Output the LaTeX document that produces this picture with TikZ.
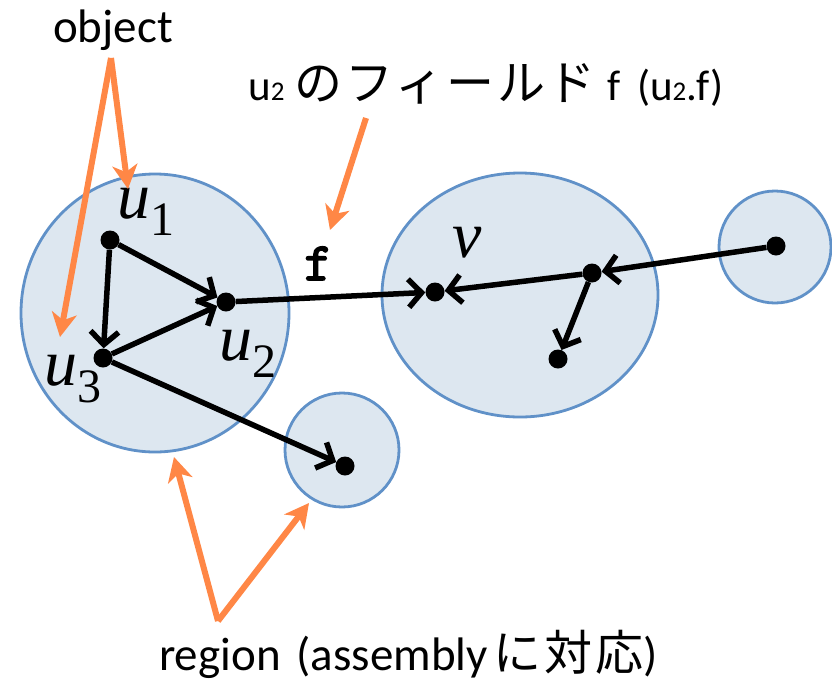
\documentclass[tikz,border=0pt]{standalone}
\usepackage{fontspec}
\setmainfont{Carlito}
\newfontfamily\cjk{Noto Sans CJK JP}[LetterSpace=6]
\newfontfamily\serifl{Liberation Serif}
\newfontfamily\ttb[FakeBold=3]{Latin Modern Mono}
\usetikzlibrary{arrows.meta}
\definecolor{regfill}{RGB}{221,231,240}
\definecolor{regline}{RGB}{96,145,200}
\definecolor{orng}{RGB}{255,135,70}
\newcommand\vlab[2]{{\serifl\itshape\fontsize{66}{66}\selectfont #1}\raisebox{-17pt}{\serifl\fontsize{48}{48}\selectfont #2}}
\newcommand\smd[1]{{\fontsize{27}{27}\selectfont #1}}
\newcommand\jp[1]{{\cjk\fontsize{48}{48}\selectfont #1}}
\tikzset{
  region/.style={draw=regline, fill=regfill, line width=2.8pt},
  dot/.style={circle, fill=black, inner sep=0pt, minimum size=19pt},
  edge/.style={line width=5.5pt, -{Straight Barb[length=13pt,width=28pt]}},
  note/.style={draw=orng, line width=6pt, -{Stealth[length=24pt,width=25pt,inset=7pt]}},
  txt/.style={inner sep=0pt, font=\fontsize{47}{49}\selectfont},
}
\begin{document}
\begin{tikzpicture}[x=1pt,y=-1pt]
\fill[white] (0,0) rectangle (832,683);
\useasboundingbox (0,0) rectangle (832,683);
% regions
\draw[region] (155,313) ellipse [x radius=134, y radius=139];
\draw[region] (342,450) circle [radius=57];
\draw[region] (520,295) ellipse [x radius=138, y radius=122];
\draw[region] (775,247) circle [radius=56];
% objects
\node[dot] (u1) at (110,240) {};
\node[dot] (u2) at (226,302) {};
\node[dot] (u3) at (103,358) {};
\node[dot] (w)  at (345,466) {};
\node[dot] (v)  at (435,292) {};
\node[dot] (m)  at (592,273) {};
\node[dot] (l)  at (558,359) {};
\node[dot] (r)  at (776,246) {};
% labels
\node[inner sep=0pt, anchor=base west] (lu1) at (117,218) {\vlab{u}{1}};
\node[inner sep=0pt, anchor=base west] (lu2) at (219,360) {\vlab{u}{2}};
\node[inner sep=0pt, anchor=base west] (lu3) at (44,385) {\vlab{u}{3}};
\node[inner sep=0pt, anchor=base west] (lv) at (452,257) {\serifl\itshape\fontsize{66}{66}\selectfont v};
\node[inner sep=0pt, anchor=base west] (lf) at (304,280) {\ttb\fontsize{54}{54}\selectfont f};
% edges
\draw[edge] (u1) -- (u2);
\draw[edge] (u1) -- (u3);
\draw[edge] (u3) -- (u2);
\draw[edge] (u3) -- (w);
\draw[edge] (u2) -- (v);
\draw[edge] (m) -- (v);
\draw[edge] (r) -- (m);
\draw[edge] (m) -- (l);
% annotations
\node[txt, anchor=base] (obj) at (113,42) {object};
\node[txt, anchor=base west, font=\fontsize{43}{45}\selectfont] (fld) at (248,100) {u\smd{2}\hspace{10pt}\jp{のフィールド}\hspace{12pt}f\hspace{16pt}(u\smd{2}.f)};
\node[txt, anchor=base west] (reg) at (159,670) {region\hspace{16pt}(assembly\hspace{6pt}\jp{に対応})};
\coordinate (oa) at (111,58);
\coordinate (ta1) at (128,189);
\coordinate (ta3) at (60,337);
\coordinate (fa) at (366,118);
\coordinate (tf) at (330,230);
\coordinate (ra) at (218,621);
\coordinate (tr1) at (174,457);
\coordinate (tr2) at (309,503);
\draw[note] (oa) -- (ta1);
\draw[note] (oa) -- (ta3);
\draw[note] (fa) -- (tf);
\draw[note] (ra) -- (tr1);
\draw[note] (ra) -- (tr2);
\end{tikzpicture}
\end{document}
